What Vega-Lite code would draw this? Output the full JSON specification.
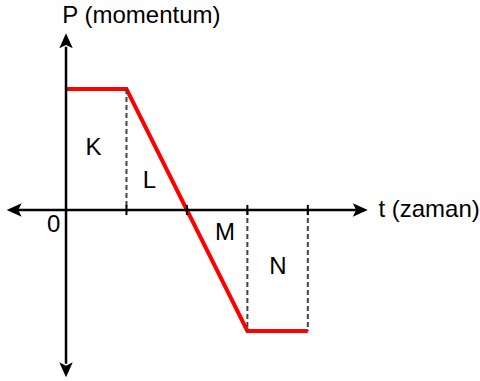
{
  "$schema": "https://vega.github.io/schema/vega-lite/v6.json",
  "width": 480,
  "height": 381,
  "autosize": {"type": "fit", "contains": "padding"},
  "padding": 0,
  "background": "white",
  "config": {"view": {"stroke": null}},
  "datasets": {
    "red": [{"t": 0, "p": 1}, {"t": 1, "p": 1}, {"t": 3, "p": -1}, {"t": 4, "p": -1}],
    "dash": [{"t": 1, "t2": 1, "p": 1, "p2": 0}, {"t": 3, "t2": 3, "p": 0, "p2": -1}, {"t": 4, "t2": 4, "p": 0, "p2": -1}],
    "axes": [{"t": -0.85, "t2": 4.85, "p": 0, "p2": 0}, {"t": 0, "t2": 0, "p": 1.35, "p2": -1.27}],
    "ticks": [{"t": 1, "t2": 1, "p": 0.042, "p2": -0.042}, {"t": 2, "t2": 2, "p": 0.042, "p2": -0.042}, {"t": 3, "t2": 3, "p": 0.042, "p2": -0.042}, {"t": 4, "t2": 4, "p": 0.042, "p2": -0.042}],
    "arrows": [{"t": -0.982, "p": 0, "dir": "left"}, {"t": 4.992, "p": 0, "dir": "right"}, {"t": 0, "p": 1.46, "dir": "up"}, {"t": 0, "p": -1.383, "dir": "down"}],
    "labels": [{"t": 0.456, "p": 0.512, "text": "K"}, {"t": 1.379, "p": 0.24, "text": "L"}, {"t": 2.628, "p": -0.19, "text": "M"}, {"t": 3.504, "p": -0.47, "text": "N"}, {"t": -0.203, "p": -0.124, "text": "0"}, {"t": 1.247, "p": 1.603, "text": "P (momentum)"}],
    "labelsLeft": [{"t": 5.168, "p": 0, "text": "t (zaman)"}]
  },
  "encoding": {
    "x": {"field": "t", "type": "quantitative", "scale": {"domain": [-1.092, 6.815], "nice": false, "zero": false}, "axis": null},
    "y": {"field": "p", "type": "quantitative", "scale": {"domain": [-1.4132, 1.7355], "nice": false, "zero": false}, "axis": null}
  },
  "layer": [
    {"data": {"name": "red"}, "mark": {"type": "line", "color": "#ff0000", "strokeWidth": 4, "strokeJoin": "miter"}},
    {"data": {"name": "dash"}, "mark": {"type": "rule", "color": "#444444", "strokeWidth": 2, "strokeDash": [5, 3]},
     "encoding": {"x2": {"field": "t2"}, "y2": {"field": "p2"}}},
    {"data": {"name": "axes"}, "mark": {"type": "rule", "color": "#000000", "strokeWidth": 2.5},
     "encoding": {"x2": {"field": "t2"}, "y2": {"field": "p2"}}},
    {"data": {"name": "ticks"}, "mark": {"type": "rule", "color": "#000000", "strokeWidth": 2},
     "encoding": {"x2": {"field": "t2"}, "y2": {"field": "p2"}}},
    {"data": {"name": "arrows"}, "mark": {"type": "point", "filled": true, "color": "#000000", "opacity": 1, "size": 225, "strokeWidth": 0},
     "encoding": {"shape": {"field": "dir", "type": "nominal", "legend": null,
       "scale": {"domain": ["left", "right", "up", "down"], "range": ["M0,0L2,-0.9L1.55,0L2,0.9Z", "M0,0L-2,-0.9L-1.55,0L-2,0.9Z", "M0,0L-0.9,2L0,1.55L0.9,2Z", "M0,0L-0.9,-2L0,-1.55L0.9,-2Z"]}}}},
    {"data": {"name": "labels"}, "mark": {"type": "text", "font": "Liberation Sans", "fontSize": 24, "align": "center", "baseline": "middle", "color": "#000000"},
     "encoding": {"text": {"field": "text"}}},
    {"data": {"name": "labelsLeft"}, "mark": {"type": "text", "font": "Liberation Sans", "fontSize": 24, "align": "left", "baseline": "middle", "color": "#000000"},
     "encoding": {"text": {"field": "text"}}}
  ]
}
